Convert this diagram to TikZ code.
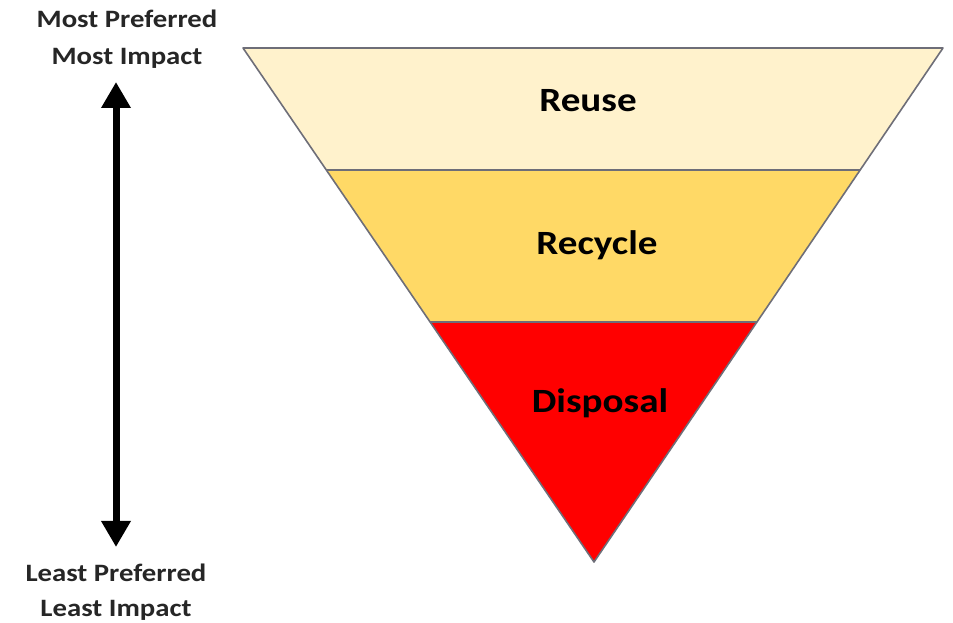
\documentclass[tikz,border=0pt]{standalone}
\usepackage{fontspec}
\setmainfont{Carlito}[FakeStretch=1.15]
\usetikzlibrary{arrows.meta}
\definecolor{reusec}{HTML}{FFF2CC}
\definecolor{recyclec}{HTML}{FFD966}
\definecolor{disposalc}{HTML}{FF0000}
\definecolor{edgec}{HTML}{6E6E78}
\tikzset{
  band/.style={draw=edgec, line width=1.6pt, line join=round},
  bandlabel/.style={anchor=base, inner sep=0pt, font=\fontsize{34}{40}\selectfont\bfseries, text=black},
  sidelabel/.style={anchor=base, inner sep=0pt, font=\fontsize{25}{30}\selectfont\bfseries, text=black!85},
  scalearrow/.style={line width=7pt, {Triangle[length=26pt,width=28pt]}-{Triangle[length=26pt,width=28pt]}}
}
\begin{document}
\begin{tikzpicture}[x=1pt,y=1pt]
\useasboundingbox (0,0) rectangle (953,623);
% corners of the inverted pyramid
\coordinate (tl) at (243,575);
\coordinate (tr) at (943,575);
\coordinate (l1) at (326,453);
\coordinate (r1) at (860,453);
\coordinate (l2) at (430,301);
\coordinate (r2) at (757,301);
\coordinate (apex) at (594,61);
% bands
\fill[reusec] (tl) -- (tr) -- (r1) -- (l1) -- cycle;
\fill[recyclec] (l1) -- (r1) -- (r2) -- (l2) -- cycle;
\fill[disposalc] (l2) -- (r2) -- (apex) -- cycle;
\draw[band] (tl) -- (tr) -- (apex) -- cycle;
\draw[band] (l1) -- (r1);
\draw[band] (l2) -- (r2);
% band labels
\node[bandlabel] (reuse) at (588,511) {Reuse};
\node[bandlabel] (recycle) at (597,368) {Recycle};
\node[bandlabel] (disposal) at (600,210) {Disposal};
% side labels
\node[sidelabel] (mp) at (127,595) {Most Preferred};
\node[sidelabel] (mi) at (127,558) {Most Impact};
\node[sidelabel] (lp) at (116,41) {Least Preferred};
\node[sidelabel] (li) at (116,6) {Least Impact};
% arrow
\coordinate (atop) at (116,541);
\coordinate (abot) at (116,76);
\draw[scalearrow] (abot) -- (atop);
\end{tikzpicture}
\end{document}
